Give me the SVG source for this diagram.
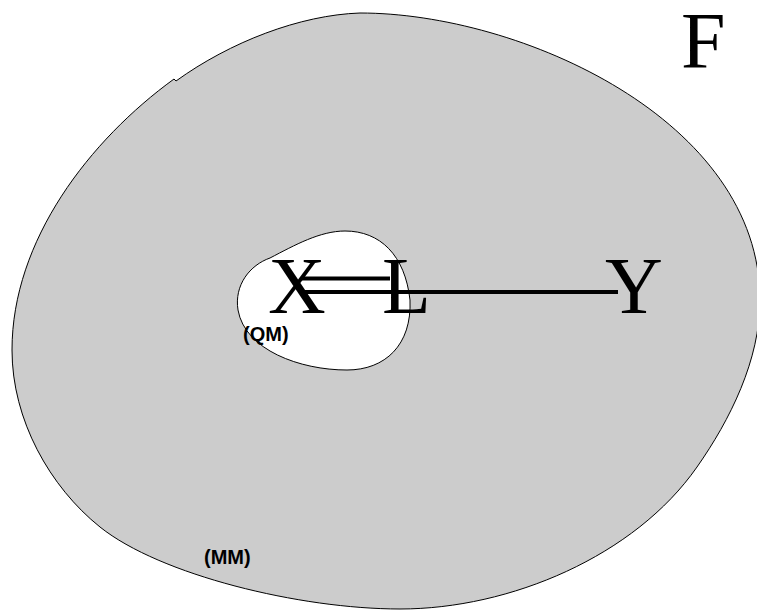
<svg xmlns="http://www.w3.org/2000/svg" width="757" height="610" viewBox="0 0 757 610">
<style>
.region{stroke:#000;stroke-width:1}
.big{font-family:"Liberation Serif","Times New Roman",serif;font-size:80px;fill:#000}
.lbl{font-family:"Liberation Sans",Arial,sans-serif;font-size:20px;font-weight:bold;fill:#000}
.conn{stroke:#000;stroke-width:3.8;fill:none}
</style>
<rect width="757" height="610" fill="#fff"/>
<g id="MM">
<path class="region" fill="#cccccc" d="M176,81 C230,42 300,15 360,13 C520,13 760,120 760,300 C760,360 730,420 697,467 C635,556 510,609 400,609 C300,609 160,575 100,527 C50,487 12,420 12,350 C12,240 90,140 174,79 Z"/>
<text class="lbl" x="204" y="564">(MM)</text>
</g>
<g id="QM">
<path class="region" fill="#ffffff" d="M345,231 C380,231 405,255 410,300 C412,345 385,370 347,370 C300,370 245,350 238,310 C234,285 250,265 270,258 C295,245 320,231 345,231 Z"/>
<text class="lbl" x="243" y="341">(QM)</text>
</g>
<g id="F"><text class="big" x="681" y="68">F</text></g>
<g id="X"><text class="big" x="268" y="313">X</text></g>
<g id="L"><text class="big" x="382" y="313">L</text></g>
<g id="Y"><text class="big" x="605" y="313">Y</text></g>
<g id="connectors">
<line class="conn" x1="301" y1="278.5" x2="390" y2="278.5"/>
<line class="conn" x1="303" y1="292" x2="618" y2="292"/>
</g>
</svg>
